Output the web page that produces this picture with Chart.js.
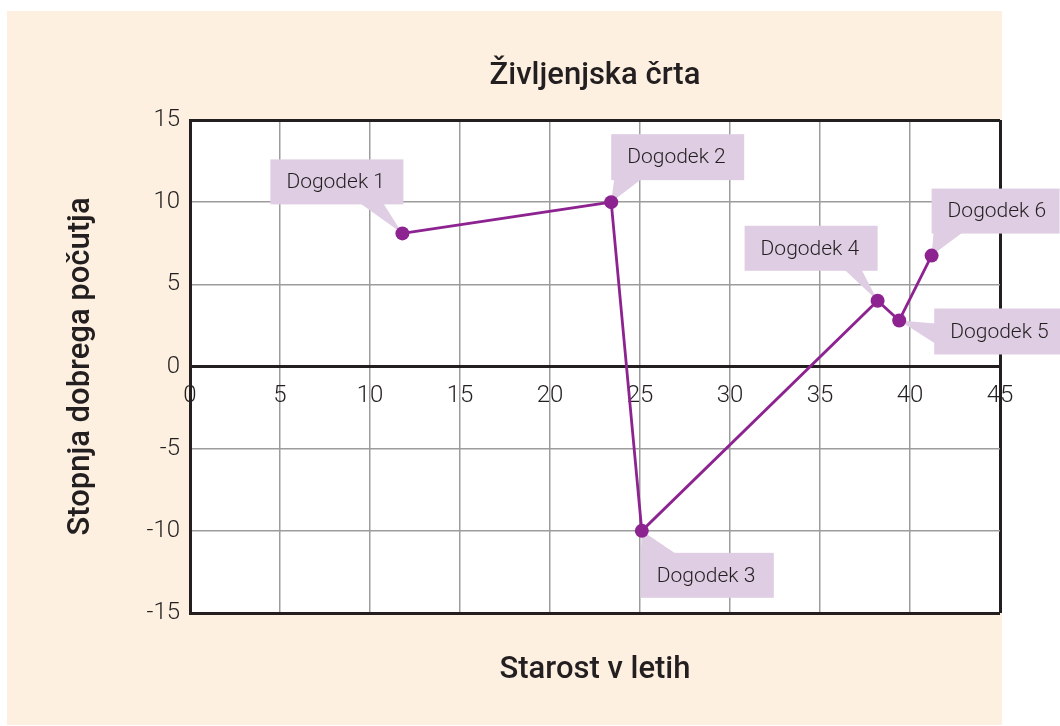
<!DOCTYPE html>
<html>
<head>
<meta charset="utf-8">
<script src="https://cdn.jsdelivr.net/npm/chart.js@4/dist/chart.umd.min.js"></script>
<style>
  body { margin: 0; background: #ffffff; }
  #panel { position: absolute; left: 7px; top: 11px; width: 995px; height: 714px; background: #fdf0e1; }
  #wrap { position: absolute; left: 0; top: 0; width: 1060px; height: 726px; }
</style>
</head>
<body>
<div id="panel"></div>
<div id="wrap"><canvas id="lifeChart" width="1060" height="726"></canvas></div>
<script>
// --- Data ---
const ages = [11.8, 23.4, 25.1, 38.2, 39.4, 41.2];
const wellbeing = [8.1, 10, -10, 4, 2.8, 6.75];
const eventLabels = ['Dogodek 1', 'Dogodek 2', 'Dogodek 3', 'Dogodek 4', 'Dogodek 5', 'Dogodek 6'];
const xTickValues = [0, 5, 10, 15, 20, 25, 30, 35, 40, 45];
const yTickValues = [-15, -10, -5, 0, 5, 10, 15];

// --- Styling ---
const textColor = '#231f20';
const lineColor = '#8d2390';
const calloutColor = '#dfcde3';
const gridGray = '#9c9c9c';

// callout box placement relative to its point (px)
const callouts = [
    { dx: -132, dy: -74, w: 133, h: 45, side: 'bottom', b0: -42, b1: -19 },
    { dx: 0,    dy: -68, w: 133, h: 46, side: 'bottom', b0: 3,   b1: 30 },
    { dx: -1,   dy: 22,  w: 133, h: 45, side: 'top',    b0: -1,  b1: 34 },
    { dx: -133, dy: -75, w: 133, h: 45, side: 'bottom', b0: -33, b1: -16 },
    { dx: 35,   dy: -12, w: 127, h: 46, side: 'left',   b0: 3,   b1: 23 },
    { dx: 0,    dy: -67, w: 128, h: 45, side: 'bottom', b0: 2,   b1: 31 }
];

const chartAreaBg = {
    id: 'chartAreaBg',
    beforeDraw(chart) {
        const { ctx, chartArea: a } = chart;
        ctx.save();
        ctx.fillStyle = '#ffffff';
        ctx.fillRect(a.left, a.top, a.right - a.left, a.bottom - a.top);
        ctx.restore();
    }
};

const calloutPlugin = {
    id: 'callouts',
    beforeDatasetsDraw(chart) {
        const { ctx } = chart;
        const xs = chart.scales.x, ys = chart.scales.y;
        ctx.save();
        ages.forEach((age, i) => {
            const px = xs.getPixelForValue(age);
            const py = ys.getPixelForValue(wellbeing[i]);
            const c = callouts[i];
            const bx = px + c.dx, by = py + c.dy;
            ctx.fillStyle = calloutColor;
            ctx.fillRect(bx, by, c.w, c.h);
            // pointer
            ctx.beginPath();
            if (c.side === 'bottom') {
                ctx.moveTo(px + c.b0, by + c.h - 1);
                ctx.lineTo(px + c.b1, by + c.h - 1);
            } else if (c.side === 'top') {
                ctx.moveTo(px + c.b0, by + 1);
                ctx.lineTo(px + c.b1, by + 1);
            } else {
                ctx.moveTo(bx + 1, py + c.b0);
                ctx.lineTo(bx + 1, py + c.b1);
            }
            ctx.lineTo(px, py);
            ctx.closePath();
            ctx.fill();
            // text
            ctx.fillStyle = textColor;
            ctx.font = '300 21px Roboto, sans-serif';
            ctx.textBaseline = 'middle';
            ctx.textAlign = 'left';
            ctx.fillText(eventLabels[i], bx + 16, by + c.h / 2 + 1);
        });
        ctx.restore();
    }
};

const ctx = document.getElementById('lifeChart').getContext('2d');
new Chart(ctx, {
    type: 'scatter',
    data: {
        datasets: [{
            label: 'Življenjska črta',
            data: ages.map((a, i) => ({ x: a, y: wellbeing[i] })),
            showLine: true,
            borderColor: lineColor,
            backgroundColor: lineColor,
            borderWidth: 2.8,
            pointRadius: 7,
            pointHoverRadius: 7,
            pointBorderWidth: 0
        }]
    },
    options: {
        responsive: false,
        animation: false,
        events: [],
        layout: { padding: { left: 0, right: 60, top: 0, bottom: 0 } },
        plugins: {
            legend: { display: false },
            tooltip: { enabled: false },
            title: {
                display: true,
                text: 'Življenjska črta',
                fullSize: false,
                color: textColor,
                font: { family: 'Roboto', size: 31, weight: '500' },
                padding: { top: 58, bottom: 24.8 }
            },
            subtitle: {
                display: true,
                position: 'bottom',
                text: 'Starost v letih',
                fullSize: false,
                color: textColor,
                font: { family: 'Roboto', size: 31, weight: '500' },
                padding: { top: 38.2, bottom: 37.6 }
            }
        },
        scales: {
            x: {
                type: 'linear',
                position: { y: 0 },
                min: xTickValues[0],
                max: xTickValues[xTickValues.length - 1],
                afterBuildTicks: (s) => { s.ticks = xTickValues.map(v => ({ value: v })); },
                ticks: {
                    color: textColor,
                    font: { family: 'Roboto', size: 24, weight: '300' },
                    padding: 15,
                    autoSkip: false,
                    maxRotation: 0
                },
                grid: {
                    drawTicks: false,
                    color: (c) => (c.tick && (c.tick.value === 0 || c.tick.value === 45)) ? textColor : gridGray,
                    lineWidth: (c) => (c.tick && (c.tick.value === 0 || c.tick.value === 45)) ? 3 : 1.5
                },
                border: { color: textColor, width: 3 }
            },
            y: {
                type: 'linear',
                position: 'left',
                min: yTickValues[0],
                max: yTickValues[yTickValues.length - 1],
                afterBuildTicks: (s) => { s.ticks = yTickValues.map(v => ({ value: v })); },
                afterFit: (s) => { s.width = 190; },
                ticks: {
                    color: textColor,
                    font: { family: 'Roboto', size: 24, weight: '300' },
                    padding: 10
                },
                grid: {
                    drawTicks: false,
                    color: (c) => (c.tick && [-15, 0, 15].includes(c.tick.value)) ? textColor : gridGray,
                    lineWidth: (c) => (c.tick && [-15, 0, 15].includes(c.tick.value)) ? 3 : 1.5
                },
                border: { color: textColor, width: 3 },
                title: {
                    display: true,
                    text: 'Stopnja dobrega počutja',
                    color: textColor,
                    font: { family: 'Roboto', size: 31, weight: '500' },
                    padding: { top: 63, bottom: 0 }
                }
            }
        }
    },
    plugins: [chartAreaBg, calloutPlugin]
});
</script>
</body>
</html>
